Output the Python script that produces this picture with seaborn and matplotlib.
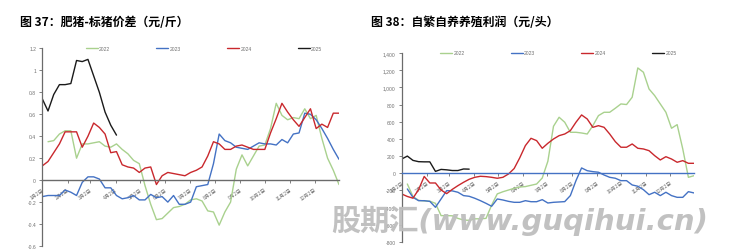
import matplotlib
matplotlib.use("Agg")
import matplotlib.pyplot as plt
import numpy as np
import pandas as pd
import seaborn as sns

# ---------------- data ----------------
years = ["2022", "2023", "2024", "2025"]
month_labels = ["1月2日", "2月2日", "3月2日", "4月2日", "5月2日", "6月2日",
                "7月2日", "8月2日", "9月2日", "10月2日", "11月2日", "12月2日"]

# chart 37: fat pig - standard pig spread (yuan/jin), weekly, first week index given
spread_start = {"2022": 1, "2023": 0, "2024": 0, "2025": 0}
spread_2022 = [0.35, 0.36, 0.42, 0.45, 0.45, 0.20, 0.33, 0.33, 0.34, 0.35,
               0.31, 0.30, 0.33, 0.28, 0.24, 0.18, 0.15, -0.05, -0.22, -0.36,
               -0.35, -0.30, -0.25, -0.24, -0.22, -0.18, -0.17, -0.19, -0.28, -0.29,
               -0.41, -0.29, -0.20, 0.10, 0.23, 0.13, 0.22, 0.31, 0.32, 0.47,
               0.70, 0.59, 0.55, 0.57, 0.56, 0.65, 0.56, 0.59, 0.38, 0.20,
               0.09, -0.04]
spread_2023 = [-0.15, -0.14, -0.14, -0.14, -0.09, -0.11, -0.14, -0.02, 0.03, 0.03,
               0.01, -0.07, -0.07, -0.14, -0.17, -0.16, -0.14, -0.18, -0.18, -0.13,
               -0.16, -0.15, -0.20, -0.14, -0.22, -0.22, -0.20, -0.06, -0.05, -0.04,
               0.15, 0.42, 0.36, 0.34, 0.30, 0.29, 0.28, 0.31, 0.34, 0.33,
               0.33, 0.32, 0.37, 0.34, 0.42, 0.43, 0.61, 0.60, 0.55, 0.47,
               0.38, 0.28, 0.19]
spread_2024 = [0.13, 0.17, 0.25, 0.33, 0.44, 0.44, 0.44, 0.30, 0.40, 0.52,
               0.48, 0.42, 0.25, 0.26, 0.14, 0.12, 0.11, 0.07, 0.11, 0.12,
               -0.04, 0.04, 0.07, 0.06, 0.05, 0.04, 0.07, 0.09, 0.12, 0.22,
               0.35, 0.33, 0.28, 0.28, 0.31, 0.32, 0.30, 0.28, 0.28, 0.28,
               0.43, 0.56, 0.70, 0.62, 0.55, 0.49, 0.57, 0.65, 0.47, 0.51,
               0.48, 0.61, 0.61]
spread_2025 = [0.74, 0.63, 0.78, 0.87, 0.87, 0.88, 1.09, 1.08, 1.10, 0.95,
               0.80, 0.62, 0.50, 0.41]

# chart 38: farrow-to-finish profit (yuan/head)
profit_start = {"2022": 1, "2023": 1, "2024": 0, "2025": 0}
profit_2022 = [-125, -270, -315, -322, -325, -350, -493, -493, -495, -525,
               -544, -548, -530, -530, -525, -370, -240, -215, -195, -175,
               -160, -155, -140, -125, -55, 140, 547, 652, 594, 477,
               477, 469, 457, 554, 671, 710, 710, 757, 807, 800,
               885, 1226, 1176, 981, 904, 807, 710, 524, 566, 283,
               -47, -28]
profit_2023 = [-183, -280, -319, -319, -327, -396, -299, -202, -205, -221,
               -260, -268, -291, -319, -350, -384, -299, -311, -327, -338,
               -338, -319, -331, -331, -307, -346, -338, -334, -330, -260,
               -86, 62, 30, 19, 12, -20, -47, -58, -86, -86,
               -136, -151, -191, -249, -221, -260, -221, -260, -280, -280,
               -214, -229]
profit_2024 = [-241, -270, -290, -190, -37, -113, -113, -195, -237, -187,
               -144, -105, -70, -47, -35, -39, -47, -58, -47, -8,
               55, 180, 322, 407, 380, 291, 349, 399, 438, 457,
               496, 594, 679, 632, 535, 554, 535, 457, 368, 303,
               303, 341, 291, 283, 263, 205, 155, 193, 166, 128,
               147, 116, 116]
profit_2025 = [166, 200, 150, 135, 133, 133, 22, 45, 40, 32, 32, 50, 48]

spread_ticks = [1.2, 1.0, 0.8, 0.6, 0.4, 0.2, 0.0, -0.2, -0.4, -0.6]
spread_ticklabels = ["1.2", "1", "0.8", "0.6", "0.4", "0.2", "0", "-0.2", "-0.4", "-0.6"]
profit_ticks = [1400, 1200, 1000, 800, 600, 400, 200, 0, -200, -400, -600, -800]
profit_ticklabels = ["1,400", "1,200", "1,000", "800", "600", "400", "200", "0",
                     "-200", "-400", "-600", "-800"]

title_left = "图 37：肥猪-标猪价差（元/斤）"
title_right = "图 38：自繁自养养殖利润（元/头）"
watermark = "股期汇(www.guqihui.cn)"

# ---------------- build frames ----------------
base = pd.Timestamp("2023-01-02")
tick_days = [(pd.Timestamp(2023, m, 2) - base).days for m in range(1, 13)]


def build(series, starts):
    rows = []
    for y, vals in series.items():
        for i, v in enumerate(vals):
            rows.append({"day": 7 * (starts[y] + i), "value": v, "year": y})
    return pd.DataFrame(rows)


df_spread = build({"2022": spread_2022, "2023": spread_2023,
                   "2024": spread_2024, "2025": spread_2025}, spread_start)
df_profit = build({"2022": profit_2022, "2023": profit_2023,
                   "2024": profit_2024, "2025": profit_2025}, profit_start)

# ---------------- style ----------------
sns.set_theme(style="white")
plt.rcParams["font.family"] = ["Liberation Sans", "Noto Sans CJK SC", "DejaVu Sans"]
plt.rcParams["axes.unicode_minus"] = False

palette = {"2022": "#A9D18E", "2023": "#4472C4", "2024": "#C9282D", "2025": "#1A1A1A"}
axis_grey = "#6B6B6B"
label_grey = "#707070"

fig = plt.figure(figsize=(7.32, 2.53), dpi=100)
fig.patch.set_facecolor("white")

ax1 = fig.add_axes([0.0578, 0.0237, 0.4053, 0.781])
ax2 = fig.add_axes([0.5488, 0.0395, 0.3993, 0.7471])


def style_axes(ax, df, yticks, yticklabels, ylim, zero_color, legend_x):
    sns.lineplot(data=df, x="day", y="value", hue="year", hue_order=years,
                 palette=palette, ax=ax, legend=False, linewidth=1.0,
                 estimator=None, sort=False)
    ax.set_xlim(0, 364)
    ax.set_ylim(*ylim)
    ax.set_xlabel("")
    ax.set_ylabel("")
    ax.set_facecolor("white")
    for s in ["top", "right"]:
        ax.spines[s].set_visible(False)
    ax.spines["left"].set_color(axis_grey)
    ax.spines["left"].set_linewidth(0.9)
    ax.spines["bottom"].set_position(("data", 0))
    ax.spines["bottom"].set_color(zero_color)
    ax.spines["bottom"].set_linewidth(1.0)
    ax.set_yticks(yticks)
    ax.set_yticklabels(yticklabels)
    ax.set_xticks(tick_days)
    ax.set_xticklabels(month_labels, rotation=35, ha="right", va="top",
                       rotation_mode="anchor")
    ax.tick_params(axis="y", direction="out", length=2, width=0.6, pad=2.5,
                   colors=axis_grey, labelcolor=label_grey, labelsize=3.6, left=True)
    ax.tick_params(axis="x", direction="out", length=2, width=0.6, pad=2.5,
                   colors=axis_grey, labelcolor=label_grey, labelsize=3.6, bottom=True)
    handles = ax.get_lines()[:4]
    leg = ax.legend(handles, years, loc="center", bbox_to_anchor=(legend_x, 1.0),
                    ncol=4, frameon=False, fontsize=3.6, handlelength=2.4,
                    handletextpad=0.3, columnspacing=9.2, borderaxespad=0)
    for t in leg.get_texts():
        t.set_color(label_grey)


style_axes(ax1, df_spread, spread_ticks, spread_ticklabels, (-0.6, 1.2), axis_grey, 0.545)
style_axes(ax2, df_profit, profit_ticks, profit_ticklabels, (-800, 1400), "#4472C4", 0.536)

fig.text(20 / 732, 1 - 23 / 253, title_left, fontsize=8.6, fontweight="bold",
         color="black", ha="left", va="center",
         family=["Noto Sans CJK SC", "DejaVu Sans"])
fig.text(371 / 732, 1 - 23 / 253, title_right, fontsize=8.6, fontweight="bold",
         color="black", ha="left", va="center",
         family=["Noto Sans CJK SC", "DejaVu Sans"])

fig.text(331 / 732, 1 - 221 / 253, watermark, fontsize=21, fontweight="bold",
         style="italic", color="#BEBEBE", alpha=0.95, ha="left", va="center",
         family=["DejaVu Sans", "Noto Sans CJK SC"], zorder=10)

fig.savefig("out.png", dpi=100, facecolor="white")
